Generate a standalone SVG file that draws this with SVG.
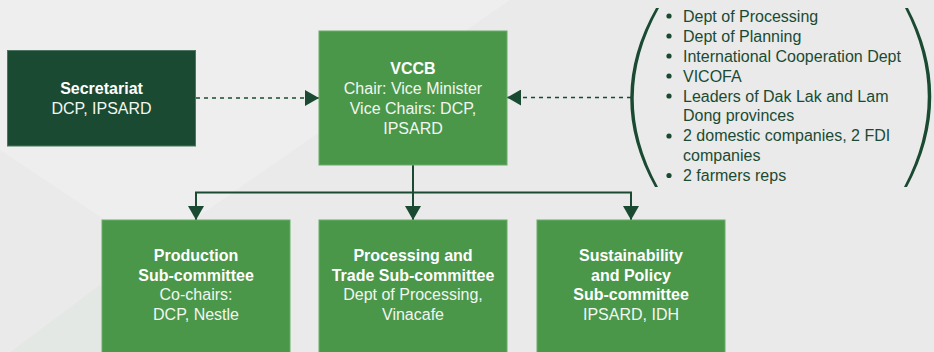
<svg xmlns="http://www.w3.org/2000/svg" width="934" height="352" viewBox="0 0 934 352">
<style>
.bg{fill:#e9eae9}
.t{font-family:"Liberation Sans",Arial,sans-serif;font-size:16px}
.w{fill:#f2f6f1;text-anchor:middle}
.b{font-weight:bold;fill:#ffffff}
.d{fill:#1b4a33}
.mid{fill:#4a974a;stroke:#6aad69;stroke-width:1}
.dark{fill:#1b4a33;stroke:#4d7560;stroke-width:1}
.con{fill:none;stroke:#1b4a33;stroke-width:2}
.dash{fill:none;stroke:#1b4a33;stroke-width:1.6;stroke-dasharray:4 4}
</style>
<defs>
<marker id="arr" viewBox="0 0 14 16" refX="14" refY="8" markerWidth="14" markerHeight="16" markerUnits="userSpaceOnUse" orient="auto">
<path d="M0,0 L14,8 L0,16 Z" fill="#1b4a33"/>
</marker>
</defs>
<rect class="bg" x="0" y="0" width="934" height="352"/>
<polygon points="0,0 510,0 150,250 0,150" fill="#edeeed"/>
<polygon points="100,285 0,360 120,360" fill="#e4e8e4"/>

<g id="connectors">
<path class="dash" d="M196,98 L319,98" marker-end="url(#arr)"/>
<path class="dash" d="M631,97.5 L507,97.5" marker-end="url(#arr)"/>
<path class="con" d="M413,165 L413,220" marker-end="url(#arr)"/>
<path class="con" d="M413,192.5 L196,192.5 L196,220" marker-end="url(#arr)"/>
<path class="con" d="M413,192.5 L631,192.5 L631,220" marker-end="url(#arr)"/>
</g>

<g id="secretariat">
<rect class="dark" x="7.5" y="50.5" width="188" height="95.5"/>
<text class="t w b" x="101.5" y="93.5">Secretariat</text>
<text class="t w" x="101.5" y="113.5">DCP, IPSARD</text>
</g>

<g id="vccb">
<rect class="mid" x="319" y="31" width="188" height="134"/>
<text class="t w b" x="413" y="74">VCCB</text>
<text class="t w" x="413" y="94">Chair: Vice Minister</text>
<text class="t w" x="413" y="114">Vice Chairs: DCP,</text>
<text class="t w" x="413" y="134">IPSARD</text>
</g>

<g id="members">
<path class="d" d="M656,8 Q605,97.5 655,187 L658,187 Q609,97.5 659,8 Z"/>
<path class="d" d="M908,8 Q955,97.5 907,187 L904,187 Q951,97.5 905,8 Z"/>
<g class="d">
<circle cx="669" cy="16" r="2.6"/>
<circle cx="669" cy="36" r="2.6"/>
<circle cx="669" cy="56" r="2.6"/>
<circle cx="669" cy="76" r="2.6"/>
<circle cx="669" cy="96" r="2.6"/>
<circle cx="669" cy="136" r="2.6"/>
<circle cx="669" cy="175.5" r="2.6"/>
</g>
<text class="t d" x="683" y="21.5">Dept of Processing</text>
<text class="t d" x="683" y="41.5">Dept of Planning</text>
<text class="t d" x="683" y="61.5">International Cooperation Dept</text>
<text class="t d" x="683" y="81.5">VICOFA</text>
<text class="t d" x="683" y="101.5">Leaders of Dak Lak and Lam</text>
<text class="t d" x="683" y="121.3">Dong provinces</text>
<text class="t d" x="683" y="141.2">2 domestic companies, 2 FDI</text>
<text class="t d" x="683" y="161">companies</text>
<text class="t d" x="683" y="181">2 farmers reps</text>
</g>

<g id="production">
<rect class="mid" x="102" y="220" width="188" height="140"/>
<text class="t w b" x="196" y="260.7">Production</text>
<text class="t w b" x="196" y="280.5">Sub-committee</text>
<text class="t w" x="196" y="300.2">Co-chairs:</text>
<text class="t w" x="196" y="319.8">DCP, Nestle</text>
</g>

<g id="processing">
<rect class="mid" x="319" y="220" width="188" height="140"/>
<text class="t w b" x="413" y="260.7">Processing and</text>
<text class="t w b" x="413" y="280.5">Trade Sub-committee</text>
<text class="t w" x="413" y="300.2">Dept of Processing,</text>
<text class="t w" x="413" y="319.8">Vinacafe</text>
</g>

<g id="sustainability">
<rect class="mid" x="537" y="220" width="188" height="140"/>
<text class="t w b" x="631" y="260.7">Sustainability</text>
<text class="t w b" x="631" y="280.5">and Policy</text>
<text class="t w b" x="631" y="300.2">Sub-committee</text>
<text class="t w" x="631" y="319.8">IPSARD, IDH</text>
</g>
</svg>
